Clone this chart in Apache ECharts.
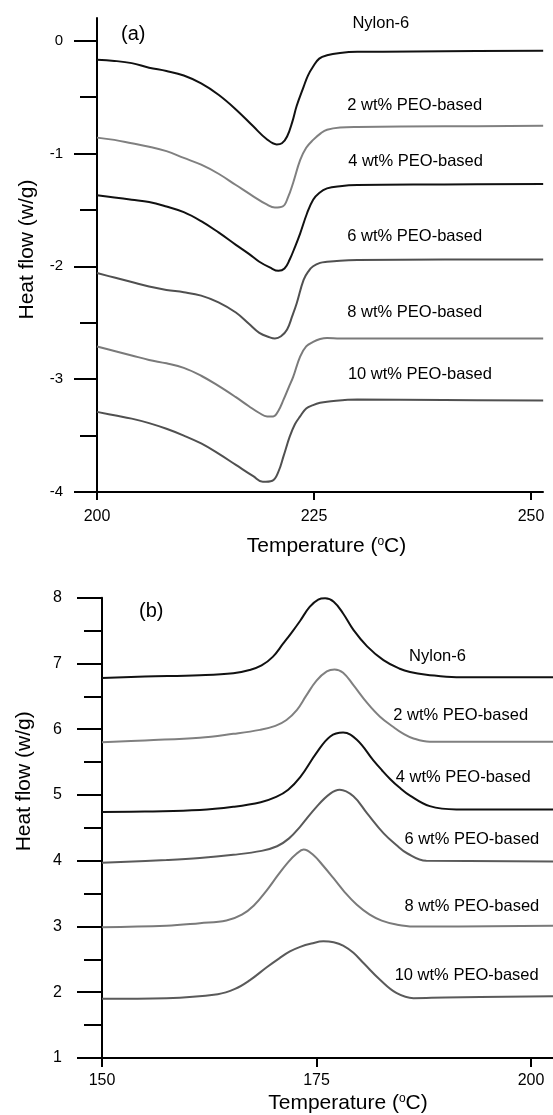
<!DOCTYPE html>
<html>
<head>
<meta charset="utf-8">
<script src="https://cdn.jsdelivr.net/npm/echarts@6/dist/echarts.min.js"></script>
<style>
html,body{margin:0;padding:0;background:#fff;}
#chart{width:553px;height:1115px;}
</style>
</head>
<body>
<div id="chart"></div>
<script>
// ---------- data ----------
const seriesNames = ['Nylon-6', '2 wt% PEO-based', '4 wt% PEO-based', '6 wt% PEO-based', '8 wt% PEO-based', '10 wt% PEO-based'];

// (a) melting curves: [temperature °C, heat flow W/g]
const meltNylon6 = [[200,-0.17],[202,-0.18],[204,-0.20],[206,-0.24],[208,-0.27],[210,-0.31],[212,-0.38],[214,-0.48],[216,-0.61],[218,-0.76],[219.5,-0.87],[220.7,-0.92],[221.3,-0.91],[221.9,-0.85],[222.5,-0.72],[223,-0.58],[223.8,-0.41],[224.3,-0.31],[224.9,-0.23],[225.6,-0.16],[226.5,-0.13],[228,-0.11],[230,-0.10],[240,-0.095],[251.4,-0.09]];
const melt2 = [[200,-0.86],[202,-0.88],[204,-0.91],[206,-0.94],[208,-0.98],[210,-1.04],[212,-1.10],[214,-1.18],[216,-1.28],[218,-1.38],[219.5,-1.45],[220.5,-1.48],[221.4,-1.47],[222,-1.39],[222.6,-1.26],[223.4,-1.06],[224.1,-0.95],[224.9,-0.88],[225.8,-0.82],[226.5,-0.79],[228,-0.77],[230,-0.765],[240,-0.76],[251.4,-0.755]];
const melt4 = [[200,-1.37],[202,-1.39],[204,-1.41],[206,-1.43],[208,-1.47],[210,-1.52],[212,-1.60],[214,-1.70],[216,-1.81],[217.5,-1.89],[218.7,-1.96],[219.9,-2.01],[220.9,-2.04],[221.6,-2.02],[222.2,-1.94],[222.8,-1.83],[223.4,-1.71],[224.2,-1.53],[224.9,-1.41],[225.6,-1.35],[226.5,-1.31],[228,-1.29],[230,-1.28],[240,-1.275],[251.4,-1.27]];
const melt6 = [[200,-2.06],[202,-2.10],[204,-2.14],[206,-2.18],[208,-2.21],[210,-2.23],[212,-2.26],[214,-2.32],[216,-2.41],[217.5,-2.51],[218.7,-2.59],[219.9,-2.63],[220.5,-2.64],[221.2,-2.62],[221.9,-2.56],[222.5,-2.44],[223,-2.33],[223.8,-2.12],[224.4,-2.04],[224.9,-2.00],[225.7,-1.97],[226.5,-1.96],[228,-1.95],[230,-1.945],[240,-1.94],[251.4,-1.94]];
const melt8 = [[200,-2.71],[202,-2.75],[204,-2.79],[206,-2.83],[208,-2.86],[210,-2.90],[212,-2.97],[214,-3.06],[216,-3.16],[217.5,-3.24],[218.7,-3.30],[219.6,-3.33],[220.3,-3.33],[220.9,-3.28],[221.5,-3.18],[222.1,-3.07],[222.6,-2.98],[223.4,-2.80],[224.1,-2.71],[224.9,-2.67],[225.7,-2.645],[226.5,-2.635],[228,-2.64],[240,-2.64],[251.4,-2.64]];
const melt10 = [[200,-3.29],[202,-3.32],[204,-3.35],[206,-3.39],[208,-3.44],[210,-3.50],[212,-3.57],[214,-3.66],[216,-3.76],[218,-3.86],[219.1,-3.91],[220.2,-3.90],[220.9,-3.82],[221.5,-3.68],[222.2,-3.51],[222.8,-3.40],[223.4,-3.33],[224.1,-3.26],[224.9,-3.23],[225.7,-3.21],[226.5,-3.20],[230,-3.18],[240,-3.185],[251.4,-3.19]];

// (b) crystallization curves: [temperature °C, heat flow W/g]
const crysNylon6 = [[150,6.78],[155,6.80],[161.4,6.82],[165.3,6.85],[167.2,6.90],[168.6,6.97],[169.9,7.10],[171.1,7.30],[172.1,7.47],[173.1,7.65],[174.2,7.86],[175.2,7.97],[176,7.99],[177,7.94],[178.1,7.76],[179.3,7.51],[180.9,7.26],[182.8,7.05],[184.7,6.92],[185.9,6.87],[187.8,6.83],[191.3,6.79],[202.6,6.79]];
const crys2 = [[150,5.80],[155,5.83],[161.4,5.87],[165.3,5.93],[168.4,5.99],[170.2,6.05],[171.5,6.14],[172.7,6.29],[173.8,6.51],[175,6.74],[176.2,6.88],[177.1,6.91],[178.1,6.86],[179.3,6.67],[180.9,6.40],[182.4,6.19],[184,6.03],[185,5.94],[186.3,5.86],[188.2,5.81],[202.6,5.81]];
const crys4 = [[150,4.74],[155,4.75],[161.4,4.77],[165.3,4.82],[168.5,4.89],[170.3,4.97],[171.7,5.08],[173.1,5.27],[175,5.64],[176.6,5.89],[178.1,5.95],[179.7,5.84],[181.6,5.53],[182.6,5.38],[183.6,5.24],[184.6,5.12],[185.9,4.99],[188.2,4.83],[191.3,4.78],[202.6,4.78]];
const crys6 = [[150,3.97],[157.5,4.01],[161.4,4.04],[165.3,4.09],[168.6,4.15],[170.4,4.22],[171.8,4.34],[173.1,4.52],[175,4.82],[176.6,5.02],[177.7,5.08],[179.3,4.98],[180.9,4.72],[182.8,4.42],[184.3,4.24],[185.6,4.11],[187.8,4.00],[202.6,3.99]];
const crys8 = [[150,2.99],[157.5,3.01],[161.4,3.05],[164.5,3.09],[166.3,3.18],[167.7,3.32],[169.2,3.55],[170.5,3.78],[171.7,3.98],[172.7,4.11],[173.5,4.17],[174.6,4.09],[175.8,3.92],[177,3.73],[178.3,3.52],[179.7,3.33],[181.2,3.18],[182.6,3.09],[184.3,3.03],[186.3,3.00],[202.6,3.01]];
const crys10 = [[150,1.90],[157.5,1.91],[163.5,1.97],[165.5,2.05],[167.2,2.18],[169.2,2.38],[170.7,2.52],[171.9,2.62],[173.1,2.69],[174.4,2.74],[175.8,2.775],[177,2.76],[178.1,2.71],[179.3,2.60],[180.5,2.44],[182.4,2.19],[184.3,1.99],[186.3,1.91],[190,1.92],[202.6,1.94]];

// tick values
const xTicksA = [200, 225, 250];
const yTicksA = [-4, -3, -2, -1, 0];
const yMinorA = [-3.5, -2.5, -1.5, -0.5];
const xTicksB = [150, 175, 200];

// curve label anchors (data units)
const labelAnchorsA = [[232.7,0.148],[236.6,-0.578],[236.7,-1.074],[236.6,-1.739],[236.6,-2.412],[237.2,-2.961]];
const labelAnchorsB = [[189.1,7.10],[191.8,6.21],[192.1,5.26],[193.1,4.32],[193.1,3.30],[192.5,2.26]];

// ---------- style ----------
const FONT = 'Liberation Sans, Arial, sans-serif';
const colorsA = ['#111111', '#808080', '#111111', '#505050', '#7a7a7a', '#505050'];
const colorsB = ['#111111', '#808080', '#111111', '#5a5a5a', '#7a7a7a', '#5a5a5a'];
const blackLine = { color: '#000', width: 2 };

const curvesA = [meltNylon6, melt2, melt4, melt6, melt8, melt10];
const curvesB = [crysNylon6, crys2, crys4, crys6, crys8, crys10];

function makeSeries(curves, anchors, colors, axisIdx) {
  return curves.map((d, i) => ({
    name: seriesNames[i],
    type: 'line',
    xAxisIndex: axisIdx,
    yAxisIndex: axisIdx,
    data: d,
    showSymbol: false,
    symbol: 'none',
    smooth: 0.4,
    lineStyle: { color: colors[i], width: 2 },
    silent: true,
    markPoint: {
      symbol: 'circle',
      symbolSize: 0,
      silent: true,
      label: {
        show: true, position: 'inside', color: '#000',
        fontSize: 16.5, fontFamily: FONT, formatter: seriesNames[i]
      },
      data: [{ coord: anchors[i] }]
    }
  }));
}

const nameRich = { sup: { fontSize: 12, verticalAlign: 'top', fontFamily: FONT, color: '#000', padding: [0, 0, 6, 0] } };

const option = {
  animation: false,
  backgroundColor: '#fff',
  title: [
    { text: '(a)', left: 121, top: 24, padding: 0, textStyle: { fontSize: 20, fontWeight: 'normal', fontFamily: FONT, color: '#000' } },
    { text: '(b)', left: 139, top: 601, padding: 0, textStyle: { fontSize: 20, fontWeight: 'normal', fontFamily: FONT, color: '#000' } }
  ],
  grid: [
    { left: 97, top: 18, width: 446, height: 474 },
    { left: 102, top: 597.7, width: 451, height: 460.6 }
  ],
  xAxis: [
    {
      gridIndex: 0, type: 'value', min: 200, max: 251.38, position: 'bottom',
      axisLine: { show: true, onZero: false, lineStyle: blackLine },
      axisTick: { show: true, customValues: xTicksA, length: 8, lineStyle: blackLine },
      axisLabel: { customValues: xTicksA, margin: 17, fontSize: 16, fontFamily: FONT, color: '#000' },
      splitLine: { show: false },
      name: 'Temperature ({sup|o}C)', nameLocation: 'middle', nameGap: 43.5,
      nameTextStyle: { fontSize: 21, fontFamily: FONT, color: '#000', padding: [0, 0, 0, 13], rich: nameRich }
    },
    {
      gridIndex: 1, type: 'value', min: 150, max: 202.56, position: 'bottom',
      axisLine: { show: true, onZero: false, lineStyle: blackLine },
      axisTick: { show: true, customValues: xTicksB, length: 9, lineStyle: blackLine },
      axisLabel: { customValues: xTicksB, margin: 15, fontSize: 16, fontFamily: FONT, color: '#000' },
      splitLine: { show: false },
      name: 'Temperature ({sup|o}C)', nameLocation: 'middle', nameGap: 35,
      nameTextStyle: { fontSize: 21, fontFamily: FONT, color: '#000', padding: [0, 0, 0, 41], rich: nameRich }
    }
  ],
  yAxis: [
    {
      gridIndex: 0, type: 'value', min: -4, max: 0.2, position: 'left',
      axisLine: { show: true, onZero: false, lineStyle: blackLine },
      axisTick: { show: true, customValues: yTicksA, length: 23, lineStyle: blackLine },
      axisLabel: { customValues: yTicksA, margin: 34, fontSize: 15, fontFamily: FONT, color: '#000' },
      splitLine: { show: false },
      name: 'Heat flow (w/g)', nameLocation: 'middle', nameGap: 59,
      nameTextStyle: { fontSize: 21, fontFamily: FONT, color: '#000', padding: [0, 0, 0, 11] }
    },
    {
      gridIndex: 1, type: 'value', min: 1, max: 8, interval: 1, position: 'left',
      axisLine: { show: true, onZero: false, lineStyle: blackLine },
      axisTick: { show: true, length: 25, lineStyle: blackLine },
      minorTick: { show: true, splitNumber: 2, length: 18, lineStyle: blackLine },
      axisLabel: { margin: 40, fontSize: 16, fontFamily: FONT, color: '#000' },
      splitLine: { show: false },
      minorSplitLine: { show: false },
      name: 'Heat flow (w/g)', nameLocation: 'middle', nameGap: 67,
      nameTextStyle: { fontSize: 21, fontFamily: FONT, color: '#000', padding: [0, 0, 0, 93] }
    },
    {
      gridIndex: 0, type: 'value', min: -4, max: 0.2, position: 'left', offset: 0,
      axisLine: { show: false, onZero: false },
      axisTick: { show: true, customValues: yMinorA, length: 17, lineStyle: blackLine },
      axisLabel: { show: false },
      splitLine: { show: false }
    }
  ],
  series: [].concat(
    makeSeries(curvesA, labelAnchorsA, colorsA, 0),
    makeSeries(curvesB, labelAnchorsB, colorsB, 1)
  )
};

const chart = echarts.init(document.getElementById('chart'), null, { renderer: 'canvas' });
chart.setOption(option);
</script>
</body>
</html>
